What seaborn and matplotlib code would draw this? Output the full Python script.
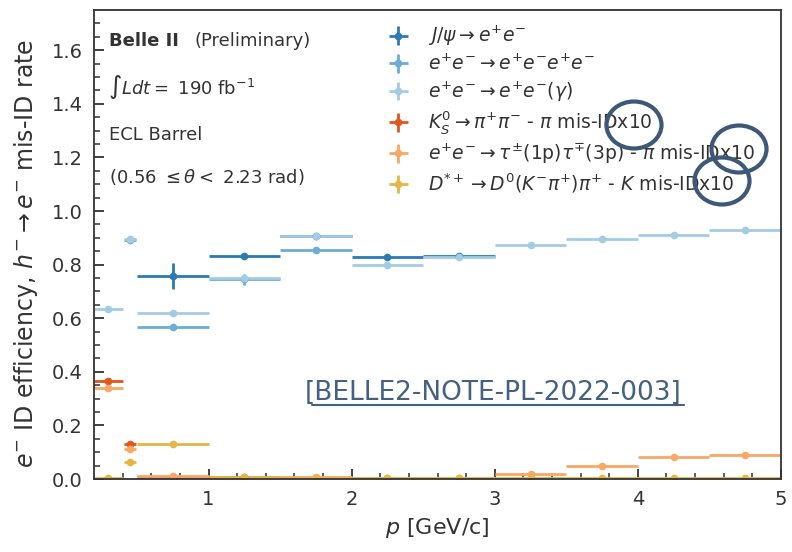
import matplotlib
matplotlib.use("Agg")
import matplotlib.pyplot as plt
from matplotlib.patches import Ellipse
import seaborn as sns

# ---- data ----
jpsi_p = [0.75, 1.25, 1.75, 2.25, 2.75]
jpsi_dp = [0.25, 0.25, 0.25, 0.25, 0.25]
jpsi_eff = [0.757, 0.833, 0.905, 0.828, 0.832]
jpsi_err = [0.048, 0.006, 0.006, 0.006, 0.006]

eeee_p = [0.45, 0.75, 1.25, 1.75]
eeee_dp = [0.04, 0.25, 0.25, 0.25]
eeee_eff = [0.893, 0.566, 0.745, 0.853]
eeee_err = [0.01, 0.006, 0.02, 0.006]

eeg_p = [0.3, 0.45, 0.75, 1.25, 1.75, 2.25, 2.75, 3.25, 3.75, 4.25, 4.75]
eeg_dp = [0.1, 0.04, 0.25, 0.25, 0.25, 0.25, 0.25, 0.25, 0.25, 0.25, 0.25]
eeg_eff = [0.635, 0.895, 0.62, 0.75, 0.905, 0.80, 0.827, 0.875, 0.895, 0.911, 0.929]
eeg_err = [0.004, 0.004, 0.004, 0.01, 0.004, 0.004, 0.004, 0.003, 0.003, 0.003, 0.003]

ks_p = [0.3, 0.45, 0.75, 1.25]
ks_dp = [0.1, 0.04, 0.25, 0.25]
ks_rate = [0.365, 0.131, 0.008, 0.006]
ks_err = [0.008, 0.01, 0.003, 0.003]

tau_p = [0.3, 0.45, 0.75, 1.25, 1.75, 2.25, 2.75, 3.25, 3.75, 4.25, 4.75]
tau_dp = [0.1, 0.04, 0.25, 0.25, 0.25, 0.25, 0.25, 0.25, 0.25, 0.25, 0.25]
tau_rate = [0.339, 0.112, 0.010, 0.005, 0.006, 0.004, 0.005, 0.020, 0.047, 0.083, 0.089]
tau_err = [0.006, 0.008, 0.003, 0.002, 0.002, 0.002, 0.002, 0.003, 0.004, 0.004, 0.005]

dst_p = [0.3, 0.45, 0.75, 1.25, 1.75, 2.25, 2.75, 3.25, 3.75, 4.25, 4.75]
dst_dp = [0.1, 0.04, 0.25, 0.25, 0.25, 0.25, 0.25, 0.25, 0.25, 0.25, 0.25]
dst_rate = [0.003, 0.065, 0.131, 0.006, 0.005, 0.004, 0.004, 0.002, 0.002, 0.002, 0.003]
dst_err = [0.002, 0.006, 0.005, 0.002, 0.002, 0.002, 0.002, 0.001, 0.001, 0.001, 0.001]

labels = [
    r"$J/\psi \rightarrow e^{+}e^{-}$",
    r"$e^{+}e^{-} \rightarrow e^{+}e^{-}e^{+}e^{-}$",
    r"$e^{+}e^{-} \rightarrow e^{+}e^{-}(\gamma)$",
    r"$K_S^0 \rightarrow \pi^{+}\pi^{-}$ - $\pi$ mis-IDx10",
    r"$e^{+}e^{-} \rightarrow \tau^{\pm}$(1p)$\tau^{\mp}$(3p) - $\pi$ mis-IDx10",
    r"$D^{*+} \rightarrow D^{0}(K^{-}\pi^{+})\pi^{+}$ - $K$ mis-IDx10",
]
colors = ["#2a7ab8", "#6aaed6", "#a3cce3", "#e2561a", "#f9a766", "#e6b645"]

sns.set_style("ticks")
plt.rcParams["font.family"] = ["DejaVu Sans"]
plt.rcParams["mathtext.fontset"] = "dejavusans"

fig = plt.figure(figsize=(7.92, 5.52), dpi=100)
ax = fig.add_axes([0.1187, 0.1322, 0.8674, 0.8496])

series = [
    (jpsi_p, jpsi_dp, jpsi_eff, jpsi_err),
    (eeee_p, eeee_dp, eeee_eff, eeee_err),
    (eeg_p, eeg_dp, eeg_eff, eeg_err),
    (ks_p, ks_dp, ks_rate, ks_err),
    (tau_p, tau_dp, tau_rate, tau_err),
    (dst_p, dst_dp, dst_rate, dst_err),
]
for (x, dx, y, dy), lab, c in zip(series, labels, colors):
    ax.errorbar(x, y, xerr=dx, yerr=dy, fmt="o", ms=4.5, color=c,
                elinewidth=2, capsize=0, label=lab)

ax.set_xlim(0.2, 5.0)
ax.set_ylim(0.0, 1.75)
ax.set_xticks([1, 2, 3, 4, 5])
ax.set_xticks([x / 5 for x in range(2, 25)], minor=True)
ax.set_yticks([0.0, 0.2, 0.4, 0.6, 0.8, 1.0, 1.2, 1.4, 1.6])
ax.set_yticks([y / 20 for y in range(0, 35)], minor=True)
ax.tick_params(axis="both", which="major", direction="in", length=7, width=1.3,
               labelsize=14, colors="#333333", pad=8, bottom=True, left=True)
ax.tick_params(axis="both", which="minor", direction="in", length=4, width=1.1,
               colors="#333333", bottom=True, left=True)
for sp in ax.spines.values():
    sp.set_color("#333333")
    sp.set_linewidth(1.3)

ax.set_xlabel(r"$p$ [GeV/c]", fontsize=16, color="#333333", labelpad=5)
ax.set_ylabel(r"$e^{-}$ ID efficiency, $h^{-} \rightarrow e^{-}$ mis-ID rate",
              fontsize=17, color="#333333")
ax.yaxis.set_label_coords(-0.079, 0.48)

tc = "#333333"
ax.text(0.022, 0.934, "Belle II", transform=ax.transAxes, fontsize=13,
        fontweight="bold", color=tc, va="center")
ax.text(0.147, 0.934, "(Preliminary)", transform=ax.transAxes, fontsize=13,
        color=tc, va="center")
ax.text(0.02, 0.836, r"$\int Ldt = $ 190 fb$^{-1}$", transform=ax.transAxes,
        fontsize=13, color=tc, va="center")
ax.text(0.022, 0.733, "ECL Barrel", transform=ax.transAxes, fontsize=13,
        color=tc, va="center")
ax.text(0.022, 0.644, r"(0.56 $\leq\theta<$ 2.23 rad)", transform=ax.transAxes,
        fontsize=13, color=tc, va="center")

leg = ax.legend(loc="upper left", bbox_to_anchor=(0.41, 0.994), frameon=False,
                fontsize=13.5, handlelength=1.2, handletextpad=1.0,
                labelspacing=0.3, borderaxespad=0.2)
for t in leg.get_texts():
    t.set_color(tc)

# note reference and hand-drawn circles overlaid on the figure
fig.text(305 / 792, 1 - 393 / 552, "[BELLE2-NOTE-PL-2022-003]",
         fontsize=19, color="#46607f", family="DejaVu Sans",
         va="center", ha="left")
fig.add_artist(plt.Line2D([312 / 792, 684 / 792], [1 - 405 / 552, 1 - 405 / 552],
                          color="#46607f", lw=1.5))
for cx, cy in [(634, 125), (739, 149), (722, 181)]:
    fig.add_artist(Ellipse((cx / 792, 1 - cy / 552), 55 / 792, 47 / 552,
                           transform=fig.transFigure,
                           fill=False, ec="#3e5877", lw=3))

fig.savefig("out.png", dpi=100)
